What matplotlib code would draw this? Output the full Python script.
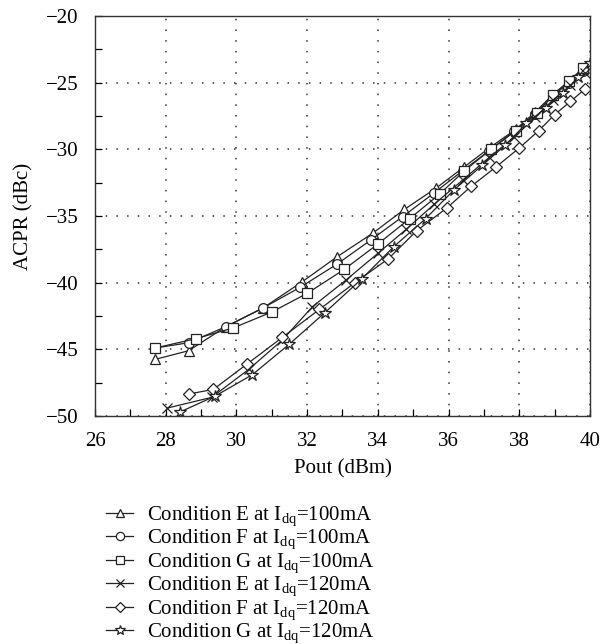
import numpy as np
import matplotlib
matplotlib.use('Agg')
import matplotlib.pyplot as plt
from matplotlib.ticker import MultipleLocator

plt.rcParams['font.family'] = ['Liberation Serif', 'DejaVu Serif']
plt.rcParams['mathtext.fontset'] = 'custom'
plt.rcParams['mathtext.rm'] = 'Liberation Serif'
plt.rcParams['mathtext.it'] = 'Liberation Serif:italic'

# ACPR vs output power for the six bias/condition cases
x_e100 = [27.7, 28.65, 29.7, 30.75, 31.85, 32.85, 33.85, 34.75, 35.65, 36.45, 37.2, 37.9, 38.45, 38.95, 39.4, 39.8]
y_e100 = [-45.75, -45.1, -43.3, -41.9, -39.95, -38.05, -36.3, -34.5, -32.9, -31.3, -29.8, -28.5, -27.2, -25.9, -24.9, -24.0]

x_f100 = [27.7, 28.65, 29.7, 30.75, 31.8, 32.85, 33.8, 34.7, 35.6, 36.4, 37.15, 37.85, 38.45, 38.95, 39.4, 39.8]
y_f100 = [-44.9, -44.5, -43.3, -41.9, -40.35, -38.6, -36.8, -35.05, -33.25, -31.6, -30.1, -28.65, -27.35, -26.0, -25.0, -24.1]

x_g100 = [27.7, 28.85, 29.9, 31.0, 32.0, 33.05, 34.0, 34.9, 35.75, 36.45, 37.2, 37.9, 38.5, 38.95, 39.4, 39.8]
y_g100 = [-44.9, -44.2, -43.4, -42.2, -40.8, -39.0, -37.1, -35.2, -33.35, -31.6, -30.0, -28.6, -27.3, -25.9, -24.9, -23.9]

x_e120 = [28.05, 29.3, 30.35, 31.3, 32.15, 33.1, 34.0, 34.8, 35.6, 36.4, 37.15, 37.85, 38.45, 38.95, 39.45, 39.85]
y_e120 = [-49.4, -48.6, -46.5, -44.3, -41.8, -39.8, -37.8, -36.0, -34.1, -32.3, -30.6, -29.1, -27.6, -26.3, -25.2, -24.3]

x_f120 = [28.65, 29.35, 30.3, 31.3, 32.35, 33.35, 34.3, 35.1, 35.95, 36.65, 37.35, 38.0, 38.55, 39.0, 39.45, 39.85]
y_f120 = [-48.35, -48.0, -46.1, -44.1, -42.0, -40.0, -38.2, -36.1, -34.4, -32.75, -31.3, -29.9, -28.6, -27.4, -26.4, -25.5]

x_g120 = [28.4, 29.4, 30.45, 31.5, 32.5, 33.55, 34.45, 35.35, 36.15, 36.95, 37.6, 38.2, 38.75, 39.25, 39.65, 40.0]
y_g120 = [-49.7, -48.5, -46.9, -44.6, -42.25, -39.7, -37.3, -35.2, -33.05, -31.2, -29.7, -28.05, -26.9, -25.8, -24.6, -23.5]

labels = ['Condition E at $\\mathregular{I_{dq}}$=100mA',
          'Condition F at $\\mathregular{I_{dq}}$=100mA',
          'Condition G at $\\mathregular{I_{dq}}$=100mA',
          'Condition E at $\\mathregular{I_{dq}}$=120mA',
          'Condition F at $\\mathregular{I_{dq}}$=120mA',
          'Condition G at $\\mathregular{I_{dq}}$=120mA']

fig = plt.figure(figsize=(6.11, 6.44), dpi=100)
ax = fig.add_axes([0.1555, 0.354, 0.81, 0.621])

series = [(x_e100, y_e100, '^', 7), (x_f100, y_f100, 'o', 7), (x_g100, y_g100, 's', 6.5),
          (x_e120, y_e120, 'x', 7), (x_f120, y_f120, 'D', 6), (x_g120, y_g120, '*', 9)]
for (xs, ys, m, ms), lab in zip(series, labels):
    ax.plot(xs, ys, color='#222222', lw=0.9, marker=m, ms=ms, mfc='white',
            mec='#222222', mew=0.9, label=lab)

ax.set_xlim(26, 40)
ax.set_ylim(-50, -20)
ax.xaxis.set_major_locator(MultipleLocator(2))
ax.xaxis.set_minor_locator(MultipleLocator(1))
ax.yaxis.set_major_locator(MultipleLocator(5))
ax.yaxis.set_minor_locator(MultipleLocator(2.5))
ax.tick_params(which='both', direction='in', length=5, width=0.9, labelsize=15,
               top=False, right=False)
ax.tick_params(axis='x', which='both', pad=11.5)
ax.tick_params(axis='y', which='both', pad=12)
ax.grid(True, which='major', color='#333333', linestyle=(0, (1, 6)), lw=1.1)
for s in ax.spines.values():
    s.set_linewidth(1.0)
    s.set_color('#333333')

ax.set_xlabel('Pout (dBm)', fontsize=15, labelpad=6)
ax.set_ylabel('ACPR (dBc)', fontsize=15, labelpad=9)

fig.legend(loc='upper left', bbox_to_anchor=(0.157, 0.233), frameon=False,
           fontsize=15, handlelength=1.3, handletextpad=0.65, labelspacing=0.0,
           borderpad=0, markerscale=0.85)

fig.savefig('out.png', dpi=100)
